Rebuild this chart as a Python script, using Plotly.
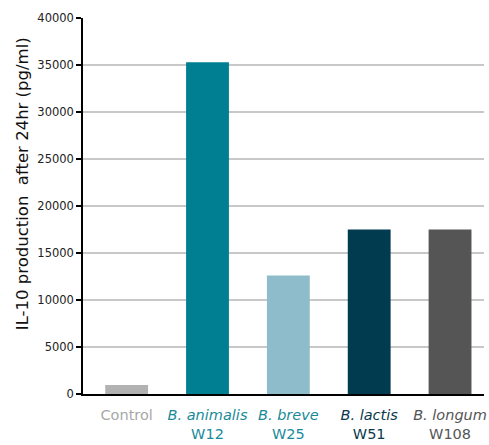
import plotly.graph_objects as go

categories = ["Control", "B. animalis W12", "B. breve W25", "B. lactis W51", "B. longum W108"]
values = [950, 35300, 12600, 17500, 17500]
bar_colors = ["#b2b2b2", "#007f93", "#8fbccb", "#003b50", "#555555"]
label_colors = ["#a8a8a8", "#1a8a9a", "#1a8a9a", "#0a3a4d", "#555555"]
label_html = ["Control", "<i>B. animalis</i><br>W12", "<i>B. breve</i><br>W25",
              "<i>B. lactis</i><br>W51", "<i>B. longum</i><br>W108"]
y_ticks = [0, 5000, 10000, 15000, 20000, 25000, 30000, 35000, 40000]
y_title = "IL-10 production  after 24hr (pg/ml)"

ticktext = [f"<span style='color:{c}'>{t}</span>" for t, c in zip(label_html, label_colors)]

fig = go.Figure(go.Bar(x=categories, y=values, marker=dict(color=bar_colors, line=dict(width=0)),
                       width=0.53))
fig.update_layout(
    width=489, height=445,
    margin=dict(l=83, r=5, t=18, b=51),
    plot_bgcolor="white", paper_bgcolor="white",
    font=dict(family="DejaVu Sans, sans-serif", size=12, color="#222"),
    showlegend=False,
)
fig.update_xaxes(tickvals=categories, ticktext=ticktext, showline=True, linecolor="black",
                 linewidth=1.5, ticks="", tickfont=dict(size=14.5), range=[-0.54, 4.42],
                 automargin=False, ticklabelstandoff=7)
fig.update_yaxes(range=[0, 40000], tickvals=y_ticks, tickformat="d", showline=True,
                 linecolor="black", linewidth=1.5,
                 ticks="outside", ticklen=5, tickcolor="black", tickwidth=1.5,
                 showgrid=True, gridcolor="#c8c8c8", gridwidth=1.5, zeroline=False,
                 tickfont=dict(size=11.5, color="#222"), automargin=False)
fig.add_annotation(text=y_title, textangle=-90, xref="paper", yref="paper",
                   x=0, xshift=-61, y=0.558, xanchor="center", yanchor="middle",
                   showarrow=False, font=dict(size=16.5, color="#111"))
fig.write_html("out.html", config={"displayModeBar": False},
               post_script="document.body.style.margin='0';")
